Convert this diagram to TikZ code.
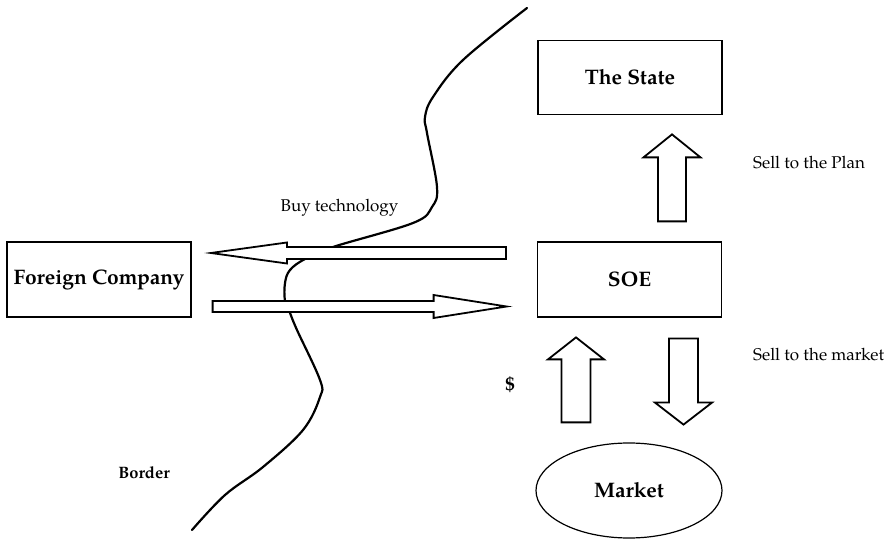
\documentclass[tikz,border=0pt]{standalone}
\usepackage{fontspec}
\setmainfont{TeX Gyre Pagella}
\usetikzlibrary{calc,shapes.geometric}
\tikzset{
  box/.style={draw,line width=1.2pt,minimum width=184pt,minimum height=74pt,
    font=\fontsize{21}{25}\selectfont\bfseries},
  caption/.style={inner sep=0pt,font=\fontsize{17}{20}\selectfont},
  boldcap/.style={inner sep=0pt,font=\fontsize{16.5}{20}\selectfont\bfseries},
  blockline/.style={draw,fill=white,line width=1.8pt,line join=miter},
  borderline/.style={line width=2.2pt,line cap=round},
}
% block arrow: tail, angle, length, shaft half width, head half width, head length
\newcommand{\blockarrow}[6]{%
  \draw[blockline,shift={(#1)},rotate=#2]
    (0,-#4) -- ({#3-#6},-#4) -- ({#3-#6},-#5) -- (#3,0)
    -- ({#3-#6},#5) -- ({#3-#6},#4) -- (0,#4) -- cycle;}

\begin{document}
\begin{tikzpicture}[x=1pt,y=1pt]
  \useasboundingbox (0,0) rectangle (889,541);
  % actors
  \node[box] (state) at (630,463.5) {The State};
  \node[box,minimum height=75pt] (soe) at (629.5,261.5) {SOE};
  \node[box,minimum height=75pt] (foreign) at (99,261.5) {Foreign Company};
  \node[box,ellipse,minimum width=186pt,minimum height=95pt] (market) at (629,50.5) {Market};
  % border
  \draw[borderline] plot[smooth,tension=0.6] coordinates {
    (527,533) (463,481) (433,444) (425,424) (427,408) (437,354) (432,334)
    (413,318) (333,294) (305,282) (290,271) (285,258) (285,240) (290,228)
    (297,211) (320,161) (320,144) (303,111) (263,74) (225,46) (192,11)};
  \node[boldcap] (border) at (144,68) {Border};
  % flows
  \coordinate (planTail) at ($(soe.north)+(42.5,20)$);
  \coordinate (moneyTail) at ($(market.north)+(-53,20)$);
  \coordinate (marketTail) at ($(soe.south)+(54,-21)$);
  \coordinate (techTail) at ($(soe.west)+(-31,26.5)$);
  \coordinate (payTail) at ($(foreign.east)+(21,-27)$);
  \blockarrow{planTail}{90}{87}{14}{28.5}{23}
  \blockarrow{moneyTail}{90}{85}{14.5}{28}{22}
  \blockarrow{marketTail}{-90}{86}{14.5}{28.5}{22}
  \blockarrow{techTail}{180}{295}{6}{10.5}{76}
  \blockarrow{payTail}{0}{294}{5.5}{11.5}{73}
  % labels
  \node[caption] (buy) at (339.5,333) {Buy technology};
  \node[caption,anchor=west] (plan) at (753,378) {Sell to the Plan};
  \node[caption,anchor=west] (sell) at (753,186) {Sell to the market};
  \node[boldcap,font=\fontsize{19}{22}\selectfont\bfseries] (dollar) at (510,156) {\$};
\end{tikzpicture}
\end{document}
